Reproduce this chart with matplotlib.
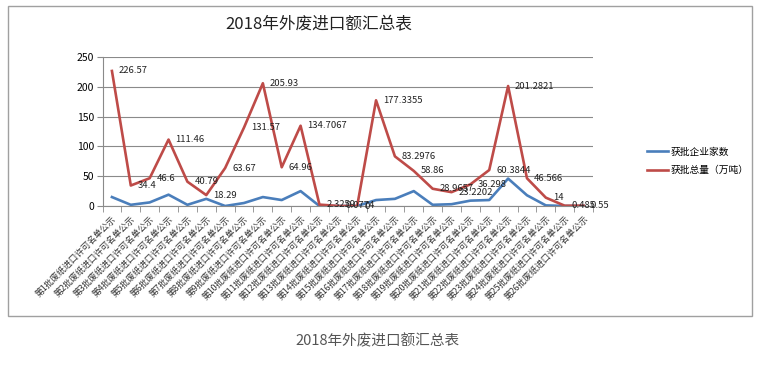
import matplotlib
matplotlib.use("Agg")
import matplotlib.pyplot as plt
from matplotlib.patches import Rectangle
from matplotlib.ticker import FixedLocator

plt.rcParams['font.family'] = ['Noto Sans CJK SC', 'DejaVu Sans']

batches = [f"第{i}批废纸进口许可名单公示" for i in range(1, 27)]
companies = [15, 2, 6, 19, 2, 12, 0, 5, 15, 10, 25, 0, 0, 0, 10, 12, 25, 2, 3, 9, 10, 46, 18, 1, 0, 0]
volume = [226.57, 34.4, 46.6, 111.46, 40.79, 18.29, 63.67, 131.57, 205.93, 64.96,
          134.7067, 2.3259, 0.0774, 0, 177.3355, 83.2976, 58.86, 28.9657, 23.2202,
          36.298, 60.3844, 201.2821, 46.566, 14, 0.485, 0.55]
volume_labels = ["226.57", "34.4", "46.6", "111.46", "40.79", "18.29", "63.67", "131.57",
                 "205.93", "64.96", "134.7067", "2.3259", "0.0774", "0", "177.3355",
                 "83.2976", "58.86", "28.9657", "23.2202", "36.298", "60.3844",
                 "201.2821", "46.566", "14", "0.485", "0.55"]
series_names = ["获批企业家数", "获批总量（万吨）"]
title = "2018年外废进口额汇总表"
yticks = [0, 50, 100, 150, 200, 250]

fig = plt.figure(figsize=(7.64, 3.68), dpi=100)
fig.patch.set_facecolor('white')

# outer frame of the embedded picture
fig.patches.append(Rectangle((8 / 764, 1 - 316 / 368), (752 - 8) / 764, (316 - 6) / 368,
                             transform=fig.transFigure, fill=False,
                             edgecolor='#a0a0a0', linewidth=1.0))

ax = fig.add_axes([102.5 / 764, 1 - 206 / 368, (593 - 102.5) / 764, (206 - 57) / 368])
x = list(range(1, len(batches) + 1))

ax.set_ylim(0, 250)
ax.set_xlim(0.5, len(batches) + 0.5)
ax.set_yticks(yticks)
ax.yaxis.grid(True, color='#8a8a8a', linewidth=0.8)
ax.set_axisbelow(True)
for s in ['top', 'right']:
    ax.spines[s].set_visible(False)
ax.spines['left'].set_color('#8a8a8a')
ax.spines['bottom'].set_color('#8a8a8a')

l1, = ax.plot(x, companies, color='#4a7ebb', linewidth=1.9, solid_joinstyle='round')
l2, = ax.plot(x, volume, color='#be4b48', linewidth=1.9, solid_joinstyle='round')

for xi, v, lab in zip(x, volume, volume_labels):
    ax.annotate(lab, (xi, v), xytext=(5, 0), textcoords='offset points',
                ha='left', va='center', fontsize=6.8, color='#222222')

ax.set_xticks(x)
ax.set_xticklabels(batches, rotation=45, ha='right', va='top',
                   rotation_mode='anchor', fontsize=6.3, color='#333333')
ax.tick_params(axis='x', which='major', length=0, pad=6)
ax.xaxis.set_minor_locator(FixedLocator([i + 0.5 for i in range(0, len(batches) + 1)]))
ax.tick_params(axis='x', which='minor', length=4, color='#8a8a8a')
ax.tick_params(axis='y', length=4, color='#8a8a8a', labelsize=7.5, pad=2)

fig.text(319 / 764, 1 - 25 / 368, title, ha='center', va='center', fontsize=12, color='#222222')
fig.text(377 / 764, 1 - 341 / 368, title, ha='center', va='center', fontsize=10.5, color='#555555')

fig.legend([l1, l2], series_names, loc='center left',
           bbox_to_anchor=(638 / 764, 1 - 161 / 368), frameon=False,
           fontsize=7, handlelength=2.2, handletextpad=0.3, labelspacing=0.9)

fig.savefig('out.png', dpi=100, facecolor='white')
